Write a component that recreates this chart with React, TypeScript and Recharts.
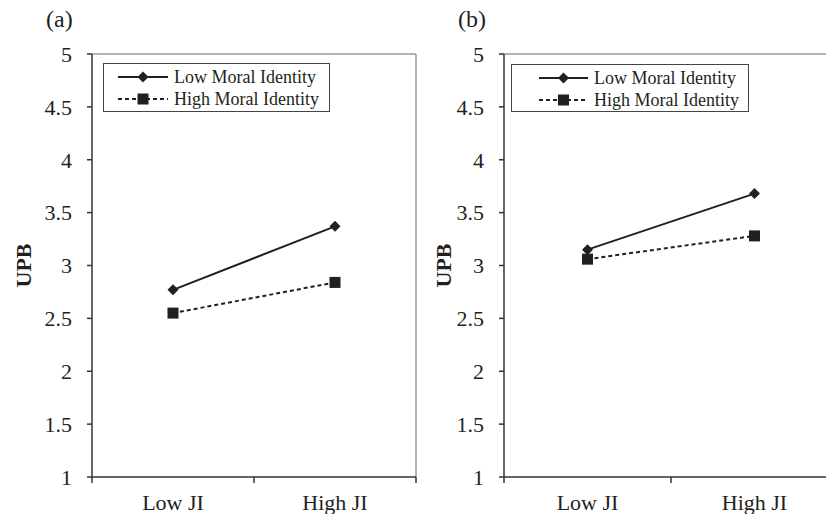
import React from "react";
import {
  Legend,
  Line,
  LineChart,
  ReferenceLine,
  XAxis,
  YAxis
} from "recharts";

const categories = ["Low JI", "High JI"];
const seriesNames = ["Low Moral Identity", "High Moral Identity"];
const yTicks = [1, 1.5, 2, 2.5, 3, 3.5, 4, 4.5, 5];

// panel (a)
const lowMoralA = [2.77, 3.37];
const highMoralA = [2.55, 2.84];
// panel (b)
const lowMoralB = [3.15, 3.68];
const highMoralB = [3.06, 3.28];

const INK = "#231f20";
const FONT = "'Liberation Serif', 'Times New Roman', serif";

const toRows = (low: number[], high: number[]) =>
  categories.map((label, i) => ({ x: i + 0.5, label, low: low[i], high: high[i] }));

const Diamond = (props: any) => {
  const { cx, cy } = props;
  if (cx == null || cy == null) return null;
  const r = 5.5;
  return (
    <path
      key={props.index}
      d={`M${cx},${cy - r} L${cx + r},${cy} L${cx},${cy + r} L${cx - r},${cy} Z`}
      fill={INK}
    />
  );
};

const Square = (props: any) => {
  const { cx, cy } = props;
  if (cx == null || cy == null) return null;
  const r = 5.5;
  return <rect key={props.index} x={cx - r} y={cy - r} width={r * 2} height={r * 2} fill={INK} />;
};

const XTick = (props: any) => {
  const { x, y, payload } = props;
  const v = payload.value;
  if (Number.isInteger(v)) {
    return <line x1={x} x2={x} y1={y} y2={y + 6} stroke="#333" strokeWidth={1.5} />;
  }
  return (
    <text x={x} y={y + 33} textAnchor="middle" fontSize={22} fontFamily={FONT} fill={INK}>
      {categories[Math.floor(v)]}
    </text>
  );
};

const LegendBox = ({ lineStart, lineEnd, textX }: { lineStart: number; lineEnd: number; textX: number }) => {
  const mid = (lineStart + lineEnd) / 2;
  return (
    <div
      style={{
        border: "1px solid #444",
        boxSizing: "border-box",
        width: "100%",
        height: "100%",
        background: "#fff"
      }}
    >
      <svg width="100%" height="100%" style={{ display: "block" }}>
        <line x1={lineStart} x2={lineEnd} y1={13} y2={13} stroke={INK} strokeWidth={2} />
        <Diamond cx={mid} cy={13} />
        <text x={textX} y={19} fontSize={18} fontFamily={FONT} fill={INK}>
          {seriesNames[0]}
        </text>
        <line x1={lineStart} x2={lineEnd} y1={35} y2={35} stroke={INK} strokeWidth={2} strokeDasharray="4 3" />
        <Square cx={mid} cy={35} />
        <text x={textX} y={41} fontSize={18} fontFamily={FONT} fill={INK}>
          {seriesNames[1]}
        </text>
      </svg>
    </div>
  );
};

function Panel({
  low,
  high,
  yAxisWidth,
  marginRight,
  legend
}: {
  low: number[];
  high: number[];
  yAxisWidth: number;
  marginRight: number;
  legend: { left: number; top: number; width: number; height: number; lineStart: number; lineEnd: number; textX: number };
}) {
  const data = toRows(low, high);
  return (
    <LineChart width={420} height={514} data={data} margin={{ top: 54, right: marginRight, bottom: 0, left: 0 }}>
      <XAxis
        dataKey="x"
        type="number"
        domain={[0, 2]}
        ticks={[0, 0.5, 1, 1.5, 2]}
        interval={0}
        height={37}
        tickSize={0}
        tickMargin={0}
        tickLine={false}
        axisLine={{ stroke: "#333", strokeWidth: 1.5 }}
        tick={<XTick />}
      />
      <YAxis
        type="number"
        domain={[1, 5]}
        ticks={yTicks}
        interval={0}
        width={yAxisWidth}
        tickSize={5}
        tickMargin={15}
        tickLine={{ stroke: "#333", strokeWidth: 1.5 }}
        axisLine={{ stroke: "#333", strokeWidth: 1.5 }}
        tick={{ fontSize: 22, fontFamily: FONT, fill: INK }}
        label={{
          value: "UPB",
          content: (p: any) => {
            const vb = p.viewBox || { x: 0, y: 54, height: 423 };
            const lx = vb.x + 31;
            const ly = vb.y + vb.height / 2;
            return (
              <text
                x={lx}
                y={ly}
                transform={`rotate(-90, ${lx}, ${ly})`}
                textAnchor="middle"
                fontSize={22}
                fontWeight="bold"
                fontFamily={FONT}
                fill={INK}
              >
                UPB
              </text>
            );
          }
        }}
      />
      <ReferenceLine y={5} stroke="#9a9a9a" strokeWidth={1.5} />
      <ReferenceLine x={2} stroke="#9a9a9a" strokeWidth={1.5} />
      <Legend
        layout="horizontal"
        verticalAlign="middle"
        align="center"
        wrapperStyle={{ left: legend.left, top: legend.top, width: legend.width, height: legend.height }}
        content={() => <LegendBox lineStart={legend.lineStart} lineEnd={legend.lineEnd} textX={legend.textX} />}
      />
      <Line
        dataKey="low"
        stroke={INK}
        strokeWidth={2}
        dot={<Diamond />}
        activeDot={false}
        isAnimationActive={false}
      />
      <Line
        dataKey="high"
        stroke={INK}
        strokeWidth={2}
        strokeDasharray="4 3"
        dot={<Square />}
        activeDot={false}
        isAnimationActive={false}
      />
    </LineChart>
  );
}

export default function App() {
  return (
    <div
      style={{
        position: "absolute",
        left: 0,
        top: 0,
        width: 826,
        height: 514,
        overflow: "hidden",
        background: "#fff",
        fontFamily: FONT,
        color: INK
      }}
    >
      <div style={{ position: "absolute", left: 0, top: 0 }}>
        <div style={{ position: "absolute", left: 46, top: 7, fontSize: 24, lineHeight: "24px", zIndex: 2 }}>(a)</div>
        <Panel
          low={lowMoralA}
          high={highMoralA}
          yAxisWidth={92}
          marginRight={4}
          legend={{ left: 103, top: 63, width: 227, height: 49, lineStart: 14, lineEnd: 64, textX: 70 }}
        />
      </div>
      <div style={{ position: "absolute", left: 420, top: 0 }}>
        <div style={{ position: "absolute", left: 38, top: 7, fontSize: 24, lineHeight: "24px", zIndex: 2 }}>(b)</div>
        <Panel
          low={lowMoralB}
          high={highMoralB}
          yAxisWidth={84}
          marginRight={2}
          legend={{ left: 91, top: 64, width: 238, height: 48, lineStart: 27, lineEnd: 76, textX: 82 }}
        />
      </div>
    </div>
  );
}
